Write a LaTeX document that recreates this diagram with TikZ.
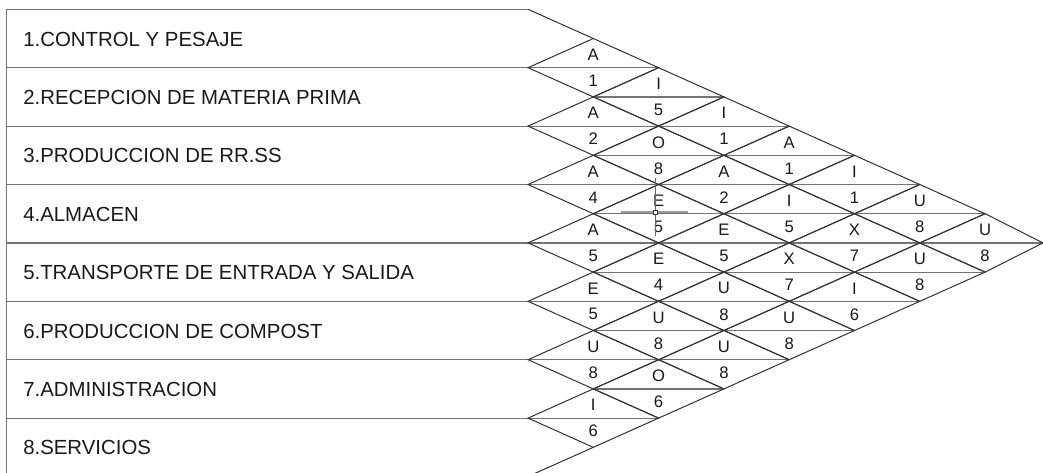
\documentclass[tikz,border=0pt]{standalone}
\usepackage{fontspec}
\setmainfont{Liberation Sans}
\begin{document}
\begin{tikzpicture}[x=0.75pt,y=-0.75pt,
  hline/.style={draw=black!55,line width=0.9pt},
  diag/.style={draw=black!80,line width=0.75pt},
  rowtext/.style={anchor=base west,inner sep=0pt,font=\fontsize{15.3pt}{18pt}\selectfont,text=black!90},
  lab/.style={anchor=center,inner sep=0pt,font=\fontsize{12.5pt}{14pt}\selectfont,text=black!90}]
\useasboundingbox (0,0) rectangle (1043,472);
\clip (0,0) rectangle (1043,472);
% left boxes
\draw[hline] (6.5,9.3) -- (6.5,476.5);
\foreach \L in {0,2,...,16}{
  \pgfmathsetmacro\yy{9.3+29.2*\L}
  \draw[hline] (6.5,\yy) -- (528,\yy);
}
\foreach \k/\t in {1/1.CONTROL Y PESAJE,2/2.RECEPCION DE MATERIA PRIMA,3/3.PRODUCCION DE RR.SS,4/4.ALMACEN,5/5.TRANSPORTE DE ENTRADA Y SALIDA,6/6.PRODUCCION DE COMPOST,7/7.ADMINISTRACION,8/8.SERVICIOS}{
  \pgfmathsetmacro\yc{9.3+58.4*(\k-0.5)+7.5}
  \node[rowtext] (r\k) at (23,\yc) {\t};
}
% outer edges
\draw[diag] (528,9.3) -- (593.3,38.5);
\draw[diag] (528,476.5) -- (593.3,447.3);
% diamonds
\foreach \i/\j/\l/\n in {1/2/A/1,1/3/I/5,1/4/I/1,1/5/A/1,1/6/I/1,1/7/U/8,1/8/U/8,
  2/3/A/2,2/4/O/8,2/5/A/2,2/6/I/5,2/7/X/7,2/8/U/8,
  3/4/A/4,3/5/E/5,3/6/E/5,3/7/X/7,3/8/I/6,
  4/5/A/5,4/6/E/4,4/7/U/8,4/8/U/8,
  5/6/E/5,5/7/U/8,5/8/U/8,
  6/7/U/8,6/8/O/6,
  7/8/I/6}{
  \pgfmathsetmacro\cx{528+65.3*(\j-\i)}
  \pgfmathsetmacro\cy{9.3+29.2*(\i+\j-1)}
  \pgfmathsetmacro\rx{min(\cx+65.3,1043)}
  \draw[hline] (\cx-65.3,\cy) -- (\rx,\cy);
  \draw[diag] (\cx-65.3,\cy) -- (\cx,\cy-29.2) -- (\rx,\cy) -- (\cx,\cy+29.2) -- cycle;
  \node[lab] (t\i\j) at (\cx,\cy-13) {\l};
  \node[lab] (n\i\j) at (\cx,\cy+13) {\n};
}
% stray marks in the source drawing
\draw[draw=black!40,line width=1.4pt] (621,212.3) -- (688,212.3);
\draw[draw=black!60,line width=0.5pt] (655.6,178) -- (655.6,236);
\draw[draw=black!80,fill=white,line width=0.5pt] (653.6,210.3) rectangle (657.6,214.3);
\end{tikzpicture}
\end{document}
